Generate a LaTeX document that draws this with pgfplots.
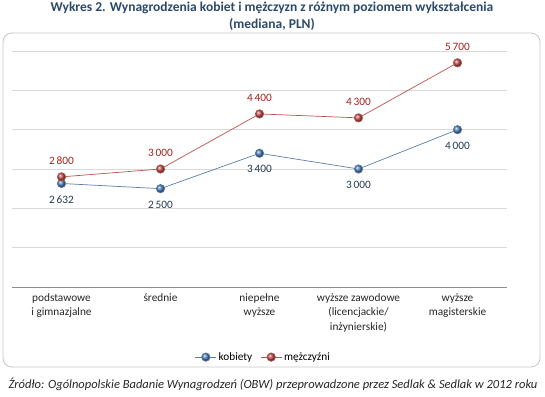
\documentclass[border=0pt]{standalone}
\usepackage{pgfplots}
\pgfplotsset{compat=1.18}
\usepackage{fontspec}
\setmainfont{Carlito}
\definecolor{titlec}{HTML}{2B4A6B}
\definecolor{bluem}{HTML}{4F81BD}
\definecolor{redm}{HTML}{C0504D}
\definecolor{bluel}{HTML}{5A7FA8}
\definecolor{redl}{HTML}{B85450}
\definecolor{bluet}{HTML}{253B52}
\definecolor{redt}{HTML}{A0231F}
\definecolor{gridc}{HTML}{D9D9D9}
\definecolor{axc}{HTML}{8C8C8C}
\begin{document}
\begin{tikzpicture}[x=1bp,y=1bp]
\useasboundingbox (0,0) rectangle (545,396);
\draw[rounded corners=9bp, draw=gray!45, line width=0.8bp] (3,29) rectangle (540,363);
\node[font=\bfseries\fontsize{13.5bp}{16.5bp}\selectfont, text=titlec, align=center] at (272,379.5) {Wykres 2. Wynagrodzenia kobiet i mężczyzn z różnym poziomem wykształcenia\\(mediana, PLN)};
\node[font=\itshape\fontsize{12.5bp}{14bp}\selectfont, text=black!85] at (273,12) {Źródło: Ogólnopolskie Badanie Wynagrodzeń (OBW) przeprowadzone przez Sedlak \& Sedlak w 2012 roku};
\begin{axis}[
  at={(12bp,109bp)}, anchor=south west,
  scale only axis, width=495bp, height=236bp,
  xmin=-0.5, xmax=4.5, ymin=0, ymax=6000,
  axis x line*=bottom, axis y line*=left,
  x axis line style={draw=axc, line width=0.6bp, -},
  y axis line style={draw=none},
  ytick={0,1000,...,6000}, yticklabels={},
  major y tick style={draw=none},
  ymajorgrids, grid style={draw=gridc, line width=0.6bp},
  xtick={0,1,2,3,4},
  xticklabels={{podstawowe\\i gimnazjalne},{średnie},{niepełne\\wyższe},{wyższe zawodowe\\(licencjackie/\\inżynierskie)},{wyższe\\magisterskie}},
  xticklabel style={align=center, anchor=north, yshift=-3bp, font=\fontsize{11.3bp}{14.5bp}\selectfont, text=black!85},
  major x tick style={draw=none},
  extra x ticks={-0.5,0.5,1.5,2.5,3.5,4.5}, extra x tick labels={},
  extra x tick style={major tick length=4bp, tick align=outside, tick style={draw=axc, line width=0.6bp}, grid=none},
  /pgf/number format/assume math mode=true,
  /pgf/number format/1000 sep={\,},
  nodes near coords,
  nodes near coords style={font=\fontsize{11.3bp}{13bp}\selectfont, anchor=center},
  legend style={at={(0.508,-0.297)}, anchor=center, draw=none, fill=none, legend columns=2, font=\fontsize{11.3bp}{13bp}\selectfont, /tikz/every even column/.append style={column sep=6bp}},
  legend image code/.code={\draw[#1, mark=none] (0,0) -- (21bp,0); \draw[#1, only marks] plot coordinates {(10.5bp,0)};},
]
\addplot[bluel, line width=0.7bp, mark=ball, mark size=4.2bp, mark options={ball color=bluem},
  nodes near coords style={text=bluet, yshift=-16bp}] coordinates {(0,2632) (1,2500) (2,3400) (3,3000) (4,4000)};
\addlegendentry{kobiety}
\addplot[redl, line width=0.7bp, mark=ball, mark size=4.2bp, mark options={ball color=redm},
  nodes near coords style={text=redt, yshift=16bp}] coordinates {(0,2800) (1,3000) (2,4400) (3,4300) (4,5700)};
\addlegendentry{mężczyźni}
\end{axis}
\end{tikzpicture}
\end{document}
